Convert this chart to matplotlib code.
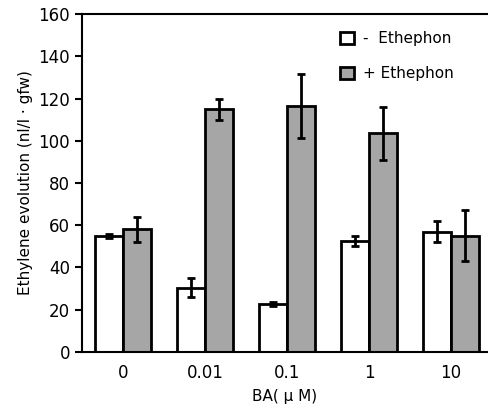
import matplotlib.pyplot as plt
import numpy as np

doses = ['0', '0.01', '0.1', '1', '10']
minus_eth = [55, 30.5, 22.5, 52.5, 57]
minus_err = [1, 4.3, 1, 2.5, 5]
plus_eth = [58, 115, 116.5, 103.5, 55]
plus_err = [6, 5, 15, 12.5, 12]

plt.rcParams['font.family'] = 'DejaVu Sans'
plt.rcParams['font.size'] = 11

fig = plt.figure(figsize=(4.88, 4.04), dpi=100)
ax = fig.add_axes([0.168, 0.129, 0.832, 0.836])

x = np.arange(len(doses))
w = 0.34
err_kw = dict(elinewidth=2, capsize=3, capthick=2, ecolor='black')
ax.bar(x - w / 2, minus_eth, w, yerr=minus_err, color='white', edgecolor='black',
       linewidth=2, error_kw=err_kw, label='-  Ethephon', zorder=2)
ax.bar(x + w / 2, plus_eth, w, yerr=plus_err, color='#a6a6a6', edgecolor='black',
       linewidth=2, error_kw=err_kw, label='+ Ethephon', zorder=2)

ax.set_xlim(-0.5, 4.45)
ax.set_ylim(0, 160)
ax.set_yticks(range(0, 161, 20))
ax.set_xticks(x)
ax.set_xticklabels(doses)
ax.tick_params(axis='x', length=0, pad=9, labelsize=12)
ax.tick_params(axis='y', length=5, width=1.5, labelsize=12)
for s in ['left', 'bottom', 'top']:
    ax.spines[s].set_linewidth(1.5)
ax.spines['right'].set_visible(False)

ax.set_xlabel('BA( μ M)', fontsize=11, labelpad=5)
ax.set_ylabel('Ethylene evolution (nl/l · gfw)', fontsize=11)

leg = ax.legend(loc='upper right', frameon=False, fontsize=11, handlelength=0.9,
                handleheight=0.9, handletextpad=0.6, labelspacing=1.3,
                bbox_to_anchor=(0.95, 0.99))

fig.savefig('out.png', dpi=100)
